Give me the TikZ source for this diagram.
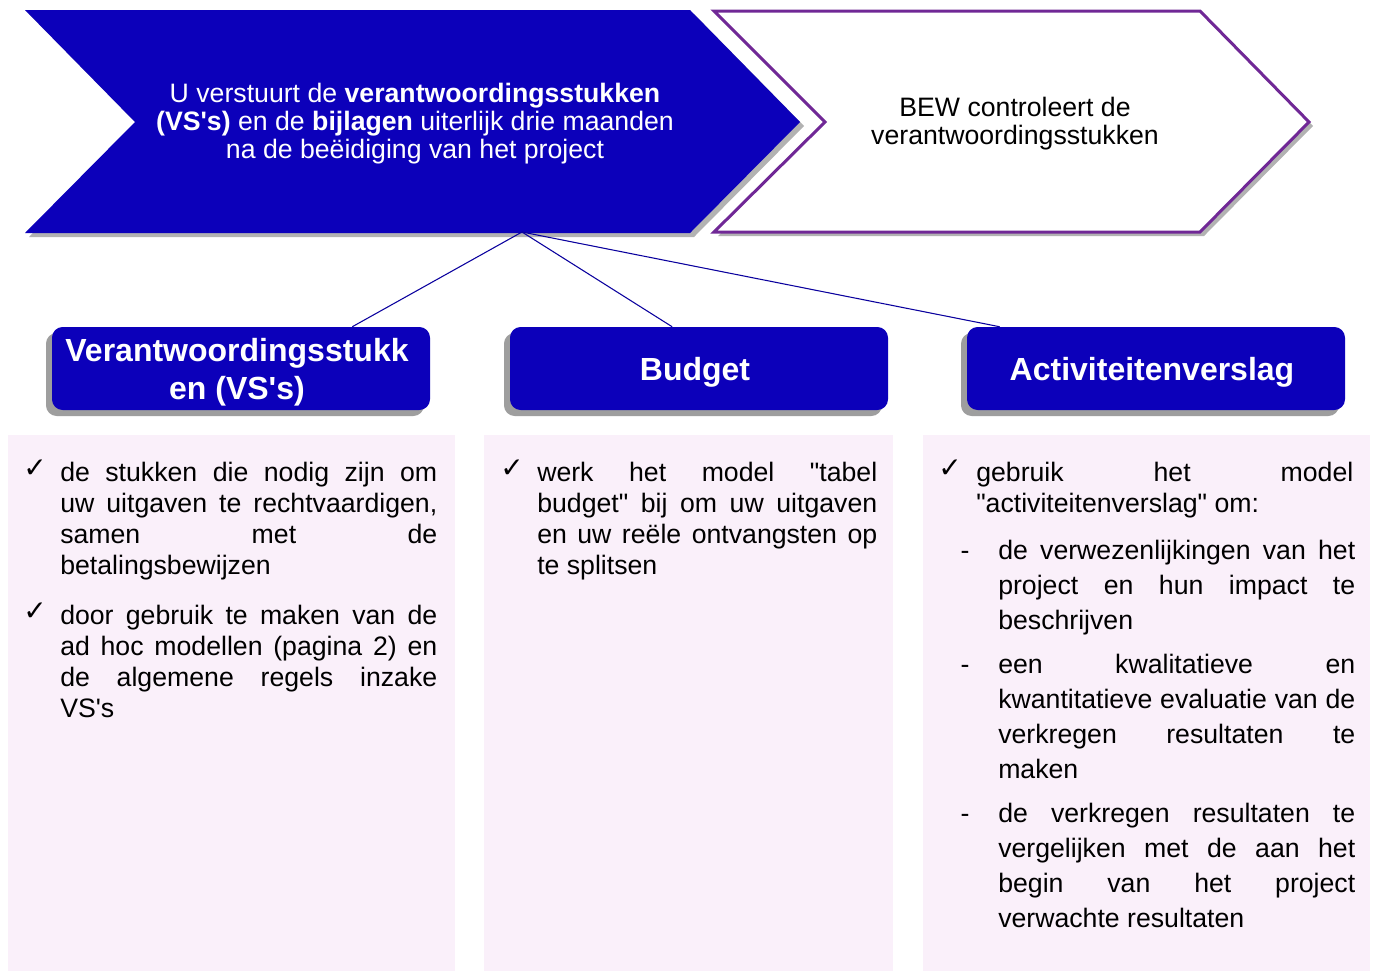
\documentclass[tikz,border=0pt]{standalone}
\usepackage{fontspec}
\setmainfont{Liberation Sans}
\newfontfamily\arial{Liberation Sans}
\newfontfamily\chkfont{DejaVu Sans}
\usetikzlibrary{shadows, calc}
\definecolor{bewblue}{RGB}{12,0,186}
\definecolor{bewpurple}{RGB}{112,40,150}
\definecolor{panelpink}{RGB}{250,240,250}
\tolerance=10000
\hyphenpenalty=10000
\hbadness=10000

\begin{document}
\begin{tikzpicture}[
        x=0.75pt, y=-0.75pt,
        every node/.style={inner sep=0pt},
        chevshadow/.style={drop shadow={shadow xshift=3pt, shadow yshift=-3pt, opacity=0.3, fill=black}},
        chevtext/.style={align=center, font=\arial\fontsize{20}{21}\selectfont},
        hdr/.style={fill=bewblue, rounded corners=8pt, minimum width=283.5pt, minimum height=62.25pt,
            drop shadow={shadow xshift=-4.5pt, shadow yshift=-4.5pt, opacity=1, fill=black!38}},
        hdrtext/.style={text=white, align=center, font=\arial\fontsize{24}{28.5}\selectfont\bfseries},
        panel/.style={fill=panelpink},
        body/.style={anchor=north west, align=justify, font=\arial\fontsize{20}{23.25}\selectfont},
        sub/.style={body, font=\arial\fontsize{20}{26.25}\selectfont},
        chk/.style={anchor=base, font=\chkfont\bfseries\fontsize{21}{21}\selectfont},
        bullet/.style={anchor=base, font=\arial\fontsize{20}{20}\selectfont},
        link/.style={draw=bewblue!85!black, line width=0.8pt}
    ]
        \path[use as bounding box, fill=white] (0,0) rectangle (1373,971);

        % chevrons
        \fill[bewblue, chevshadow] (25,10) -- (690,10) -- (800,122) -- (690,233) -- (25,233) -- (135,122) -- cycle;
        \draw[bewpurple, line width=2.25pt, fill=white, chevshadow] (714,11) -- (1200,11) -- (1309,122) -- (1200,232) -- (714,232) -- (825,122) -- cycle;
        \node[chevtext, text=white] (send) at (415,124) {U verstuurt de \textbf{verantwoordingsstukken}\\ \textbf{(VS's)} en de \textbf{bijlagen} uiterlijk drie maanden\\ na de beëidiging van het project};
        \node[chevtext] (check) at (1015,124) {BEW controleert de\\ verantwoordingsstukken};
        \coordinate (hub) at (522,232);

        % headers
        \node[hdr] (vs) at (241,368.5) {};
        \node[hdr] (budget) at (699,368.5) {};
        \node[hdr] (verslag) at (1156,368.5) {};
        \node[hdrtext] (vstext) at ($(vs)+(-4,3.5)$) {Verantwoordingsstukk\\ en (VS's)};
        \node[hdrtext] (budgettext) at ($(budget)+(-4,3.5)$) {Budget};
        \node[hdrtext] (verslagtext) at ($(verslag)+(-4,3.5)$) {Activiteitenverslag};

        \draw[link] (hub) -- ($(vs.north west)!0.794!(vs.north east)$);
        \draw[link] (hub) -- ($(budget.north west)!0.429!(budget.north east)$);
        \draw[link] (hub) -- ($(verslag.north west)!0.087!(verslag.north east)$);

        % panels
        \fill[panel] (8,435) rectangle (455,971);
        \fill[panel] (484,435) rectangle (893,971);
        \fill[panel] (923,435) rectangle (1370,971);

        \node[chk] (c11) at (35,477) {✓};
        \node[body, text width=282.75pt] (t11) at (60,462) {de stukken die nodig zijn om\linebreak uw uitgaven te rechtvaardigen,\linebreak samen met de\linebreak betalingsbewijzen};
        \node[chk] (c12) at (35,620) {✓};
        \node[body, text width=282.75pt] (t12) at (60,605) {door gebruik te maken van de\linebreak ad hoc modellen (pagina 2) en\linebreak de algemene regels inzake\linebreak VS's};

        \node[chk] (c21) at (512,477) {✓};
        \node[body, text width=255pt] (t21) at (537,462) {werk het model "tabel\linebreak budget" bij om uw uitgaven\linebreak en uw reële ontvangsten op\linebreak te splitsen};

        \node[chk] (c31) at (950,477) {✓};
        \node[body, text width=282.75pt] (t31) at (976,462) {gebruik het model\linebreak "activiteitenverslag" om:};
        \node[bullet] (d1) at (965,559) {-};
        \node[sub, text width=267.75pt] (t32) at (998,540) {de verwezenlijkingen van het\linebreak project en hun impact te\linebreak beschrijven};
        \node[bullet] (d2) at (965,673) {-};
        \node[sub, text width=267.75pt] (t33) at (998,654) {een kwalitatieve en\linebreak kwantitatieve evaluatie van de\linebreak verkregen resultaten te\linebreak maken};
        \node[bullet] (d3) at (965,822) {-};
        \node[sub, text width=267.75pt] (t34) at (998,803) {de verkregen resultaten te\linebreak vergelijken met de aan het\linebreak begin van het project\linebreak verwachte resultaten};
    \end{tikzpicture}
\end{document}
